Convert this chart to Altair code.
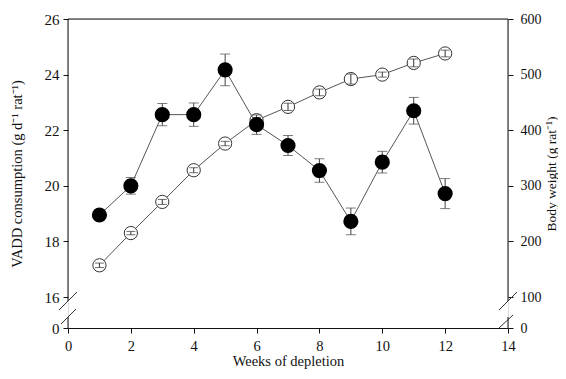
import altair as alt
import pandas as pd

weeks = [1, 2, 3, 4, 5, 6, 7, 8, 9, 10, 11, 12]
vadd = [18.95, 20.0, 22.56, 22.56, 24.17, 22.2, 21.45, 20.55, 18.72, 20.85, 22.7, 19.72]
vadd_se = [0.2, 0.3, 0.4, 0.42, 0.57, 0.35, 0.36, 0.42, 0.48, 0.39, 0.48, 0.54]
body = [157, 215, 271, 328, 376, 418, 442, 468, 492, 500, 521, 538]
body_se = [4, 3, 4.5, 4.5, 4, 5, 6.5, 6, 9, 4.5, 7, 6]

x_ticks = [0, 2, 4, 6, 8, 10, 12, 14]
left_ticks = [14.885, 16, 18, 20, 22, 24, 26]
right_ticks = [44.25, 100, 200, 300, 400, 500, 600]

df = pd.DataFrame({
    "week": weeks,
    "vadd": vadd,
    "vadd_lo": [v - s for v, s in zip(vadd, vadd_se)],
    "vadd_hi": [v + s for v, s in zip(vadd, vadd_se)],
    "body": body,
    "body_lo": [v - s for v, s in zip(body, body_se)],
    "body_hi": [v + s for v, s in zip(body, body_se)],
})

FONT = "Liberation Serif"
W, H = 440, 309

xenc = alt.X("week:Q", scale=alt.Scale(domain=[0, 14], nice=False),
             axis=alt.Axis(values=x_ticks, title="Weeks of depletion", grid=False,
                           tickSize=5, labelPadding=6, titlePadding=2,
                           labelFontSize=14.5, titleFontSize=14.5, labelFont=FONT, titleFont=FONT,
                           domainColor="#111", tickColor="#111", labelColor="#111",
                           titleColor="#111", titleFontWeight="normal", labelFlush=False))

left_scale = alt.Scale(domain=[14.885, 26], nice=False, zero=False)
left_axis = alt.Axis(values=left_ticks, grid=False, domain=False, tickSize=5, labelPadding=4,
                     title="VADD consumption (g d\u207b\u00b9 rat\u207b\u00b9)",
                     labelExpr="datum.value < 15 ? '0' : format(datum.value, 'd')",
                     labelFontSize=15, titleFontSize=14.5, labelFont=FONT, titleFont=FONT,
                     tickColor="#111", labelColor="#111", titleColor="#111",
                     titleFontWeight="normal", titlePadding=20, labelFlush=False)

right_scale = alt.Scale(domain=[44.25, 600], nice=False, zero=False)
right_axis = alt.Axis(values=right_ticks, grid=False, domain=False, tickSize=5, labelPadding=7,
                      orient="right", title="Body weight (g rat\u207b\u00b9)",
                      labelExpr="datum.value < 50 ? '0' : format(datum.value, 'd')",
                      labelFontSize=14, titleFontSize=13.5, labelFont=FONT, titleFont=FONT,
                      tickColor="#111", labelColor="#111", titleColor="#111",
                      titleFontWeight="normal", titlePadding=3, titleAngle=270,
                      titleBaseline="top", labelFlush=False)

base = alt.Chart(df)

# Body weight (right axis)
b_line = base.mark_line(color="#555", strokeWidth=1).encode(
    x=xenc, y=alt.Y("body:Q", scale=right_scale, axis=right_axis))
b_pts = base.mark_point(shape="circle", filled=True, fill="white", stroke="#333",
                        strokeWidth=1, size=175, opacity=1).encode(
    x=xenc, y=alt.Y("body:Q", scale=right_scale, axis=right_axis))
b_err = base.mark_rule(color="#333", strokeWidth=1).encode(
    x=xenc, y=alt.Y("body_lo:Q", scale=right_scale, axis=right_axis), y2="body_hi:Q")
b_cap_lo = base.mark_tick(color="#333", thickness=1, size=9, orient="horizontal").encode(
    x=xenc, y=alt.Y("body_lo:Q", scale=right_scale, axis=right_axis))
b_cap_hi = base.mark_tick(color="#333", thickness=1, size=9, orient="horizontal").encode(
    x=xenc, y=alt.Y("body_hi:Q", scale=right_scale, axis=right_axis))
right_layer = alt.layer(b_line, b_pts, b_err, b_cap_lo, b_cap_hi)

# VADD consumption (left axis)
v_line = base.mark_line(color="#555", strokeWidth=1).encode(
    x=xenc, y=alt.Y("vadd:Q", scale=left_scale, axis=left_axis))
v_err = base.mark_rule(color="#444", strokeWidth=1).encode(
    x=xenc, y=alt.Y("vadd_lo:Q", scale=left_scale, axis=left_axis), y2="vadd_hi:Q")
v_cap_lo = base.mark_tick(color="#444", thickness=1, size=10, orient="horizontal").encode(
    x=xenc, y=alt.Y("vadd_lo:Q", scale=left_scale, axis=left_axis))
v_cap_hi = base.mark_tick(color="#444", thickness=1, size=10, orient="horizontal").encode(
    x=xenc, y=alt.Y("vadd_hi:Q", scale=left_scale, axis=left_axis))
v_pts = base.mark_point(shape="circle", filled=True, color="black", size=230, opacity=1).encode(
    x=xenc, y=alt.Y("vadd:Q", scale=left_scale, axis=left_axis))
left_layer = alt.layer(v_line, v_err, v_cap_lo, v_cap_hi, v_pts)

one = pd.DataFrame({"k": [0]})
deco = alt.Chart(one)
AX = "#111"
frame = [
    # top border
    deco.mark_rule(color=AX, strokeWidth=1).encode(x=alt.value(0), x2=alt.value(W), y=alt.value(0)),
    # left axis segments
    deco.mark_rule(color=AX, strokeWidth=1).encode(x=alt.value(0), y=alt.value(0), y2=alt.value(282)),
    deco.mark_rule(color=AX, strokeWidth=1).encode(x=alt.value(0), y=alt.value(298), y2=alt.value(H)),
    # right axis segments
    deco.mark_rule(color=AX, strokeWidth=1).encode(x=alt.value(W), y=alt.value(0), y2=alt.value(282)),
    deco.mark_rule(color=AX, strokeWidth=1).encode(x=alt.value(W), y=alt.value(298), y2=alt.value(H)),
    # break slashes left
    deco.mark_rule(color="#333", strokeWidth=1).encode(x=alt.value(-9), x2=alt.value(9), y=alt.value(291), y2=alt.value(273)),
    deco.mark_rule(color="#333", strokeWidth=1).encode(x=alt.value(-7), x2=alt.value(8), y=alt.value(305), y2=alt.value(290)),
    # break slashes right
    deco.mark_rule(color="#333", strokeWidth=1).encode(x=alt.value(W - 9), x2=alt.value(W + 9), y=alt.value(291), y2=alt.value(273)),
    deco.mark_rule(color="#333", strokeWidth=1).encode(x=alt.value(W - 9), x2=alt.value(W + 5), y=alt.value(309), y2=alt.value(296)),
]

chart = alt.layer(right_layer, left_layer, *frame).resolve_scale(y="independent").properties(
    width=W, height=H,
    autosize=alt.AutoSizeParams(type="none"),
    padding={"left": 60, "top": 11, "right": 50, "bottom": 43},
).configure_view(stroke=None).configure(background="white")

chart.save("out.html", embed_options={"renderer": "svg", "actions": False})
